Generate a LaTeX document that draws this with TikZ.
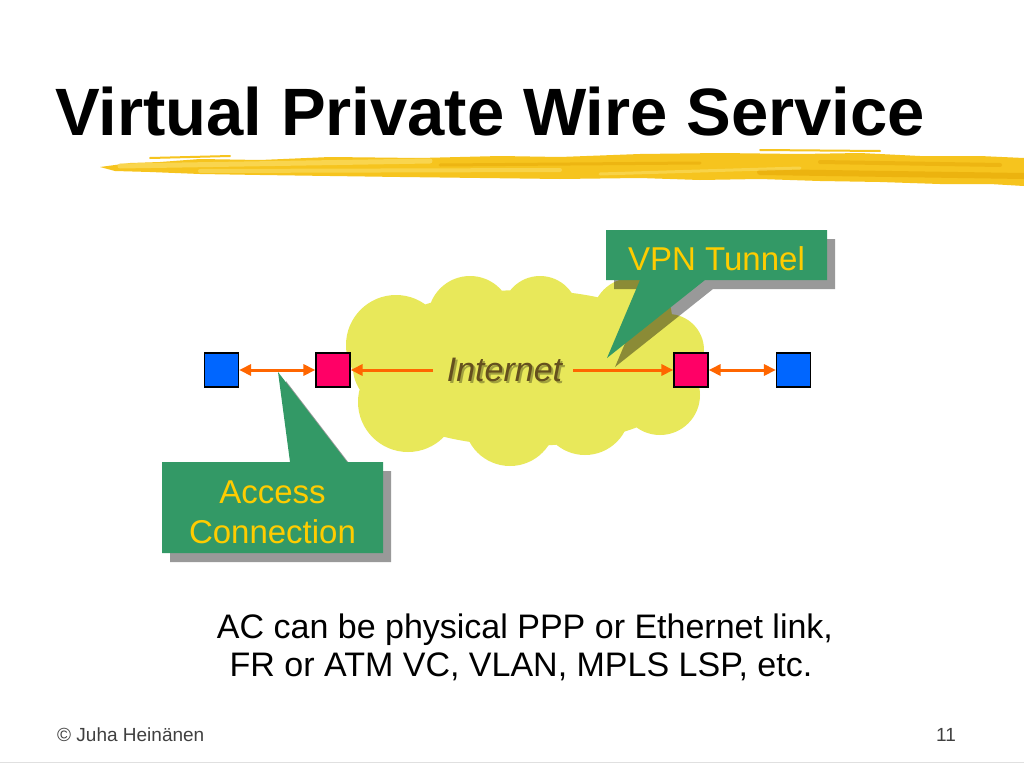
\documentclass[tikz,border=0pt]{standalone}
\usepackage{fontspec}
\setmainfont{Liberation Sans}
\usetikzlibrary{arrows.meta}
\definecolor{cgreen}{RGB}{51,153,102}
\definecolor{cyell}{RGB}{255,204,0}
\definecolor{cloudc}{RGB}{232,232,90}
\definecolor{cmag}{RGB}{255,0,102}
\definecolor{cblue}{RGB}{0,102,255}
\definecolor{corange}{RGB}{255,102,0}
\definecolor{inetc}{RGB}{100,80,30}
\definecolor{brushA}{RGB}{246,196,30}
\definecolor{brushB}{RGB}{250,218,90}
\definecolor{brushC}{RGB}{232,172,10}
\tikzset{
  sq/.style={draw=black, line width=1.2pt, minimum size=34pt, inner sep=0pt},
  bluesq/.style={sq, fill=cblue},
  magsq/.style={sq, fill=cmag},
  arr/.style={draw=corange, line width=3pt, {Triangle[length=12pt,width=11pt]}-{Triangle[length=12pt,width=11pt]}},
  arrr/.style={draw=corange, line width=3pt, -{Triangle[length=12pt,width=11pt]}},
  calltext/.style={text=cyell, font=\fontsize{33}{40}\selectfont, align=center, inner sep=0pt},
  shadowc/.style={fill=black, fill opacity=0.4},
  body/.style={font=\fontsize{34}{38}\selectfont, inner sep=0pt, anchor=base},
  foot/.style={font=\fontsize{19}{22}\selectfont, text=black!75, inner sep=0pt, anchor=base},
  streak/.style={line cap=round}
}
\begin{document}
\begin{tikzpicture}[x=1pt,y=-1pt]
\useasboundingbox (0,0) rectangle (1024,768);
\fill[white] (0,0) rectangle (1024,768);
% brush stroke
\fill[brushA] (100,167) -- (130,163) -- (160,162) -- (200,159) -- (260,160) -- (330,157) -- (420,158) -- (500,156) -- (560,157) -- (640,154) -- (720,153) -- (800,154) -- (860,153) -- (920,156) -- (980,156) -- (1024,158)
  -- (1024,186) -- (990,184) -- (940,184) -- (880,182) -- (820,181) -- (760,179) -- (700,180) -- (640,178) -- (560,179) -- (480,178) -- (400,177) -- (330,176) -- (260,175) -- (200,174) -- (150,172) -- (115,171) -- cycle;
\draw[streak, brushB, line width=5pt, opacity=0.8] (120,166) -- (430,161);
\draw[streak, brushB, line width=4pt, opacity=0.7] (200,171) -- (560,170);
\draw[streak, brushC, line width=3pt, opacity=0.6] (440,165) -- (700,163);
\draw[streak, brushC, line width=6pt, opacity=0.7] (760,172) -- (1024,176);
\draw[streak, brushC, line width=4pt, opacity=0.6] (820,162) -- (1000,165);
\draw[streak, brushB, line width=3pt, opacity=0.7] (600,174) -- (800,168);
\draw[streak, brushA, line width=2pt] (150,158) -- (230,156);
\draw[streak, brushA, line width=2pt] (760,150) -- (880,151);
% title
\node[font=\bfseries\fontsize{67}{70}\selectfont, anchor=base west, inner sep=0pt] (title) at (55,135) {Virtual Private Wire Service};
% cloud
\fill[cloudc] (396,345) circle (50) (470,318) circle (42) (540,314) circle (38) (632,318) circle (40)
  (668,350) circle (36) (660,395) circle (40) (585,410) circle (45) (510,420) circle (46) (408,402) circle (50)
  (525,368) ellipse (172 and 78);
% callout shadows
\fill[shadowc] (614,239) -- (835,239) -- (835,289) -- (713,289) -- (615,367) -- (648,289) -- (614,289) -- cycle;
\fill[shadowc] (170,471) -- (298,471) -- (286,381) -- (355,471) -- (391,471) -- (391,562) -- (170,562) -- cycle;
% callouts
\fill[cgreen] (606,230) -- (827,230) -- (827,280) -- (705,280) -- (607,358) -- (640,280) -- (606,280) -- cycle;
\fill[cgreen] (162,462) -- (290,462) -- (278,372) -- (347,462) -- (383,462) -- (383,553) -- (162,553) -- cycle;
\node[calltext, anchor=base] (vpn) at (716.5,270) {VPN Tunnel};
\node[calltext, anchor=base] (acc1) at (272.5,503) {Access};
\node[calltext, anchor=base] (acc2) at (272.5,543) {Connection};
% squares
\node[bluesq] (b1) at (221.5,370) {};
\node[magsq] (m1) at (333,370) {};
\node[magsq] (m2) at (691,370) {};
\node[bluesq] (b2) at (793.5,370) {};
% internet text
\node[font=\itshape\fontsize{34}{40}\selectfont, text=black, text opacity=0.3, inner sep=0pt, anchor=base] at (506.5,383) {Internet};
\node[font=\itshape\fontsize{34}{40}\selectfont, text=inetc, inner sep=0pt, anchor=base] (inet) at (504.5,381) {Internet};
\coordinate (il) at (433,370);
\coordinate (ir) at (573,370);
% arrows
\draw[arr] (b1) -- (m1);
\draw[arrr] (il) -- (m1);
\draw[arrr] (ir) -- (m2);
\draw[arr] (m2) -- (b2);
% body text
\node[body] (t1) at (525,638) {AC can be physical PPP or Ethernet link,};
\node[body] (t2) at (521,676) {FR or ATM VC, VLAN, MPLS LSP, etc.};
% footer
\node[foot, anchor=base west] (copy) at (57,741) {© Juha Heinänen};
\node[foot, anchor=base west] (pg) at (936,741) {11};
\draw[black!12, line width=1pt] (0,762) -- (1024,762);
\end{tikzpicture}
\end{document}
